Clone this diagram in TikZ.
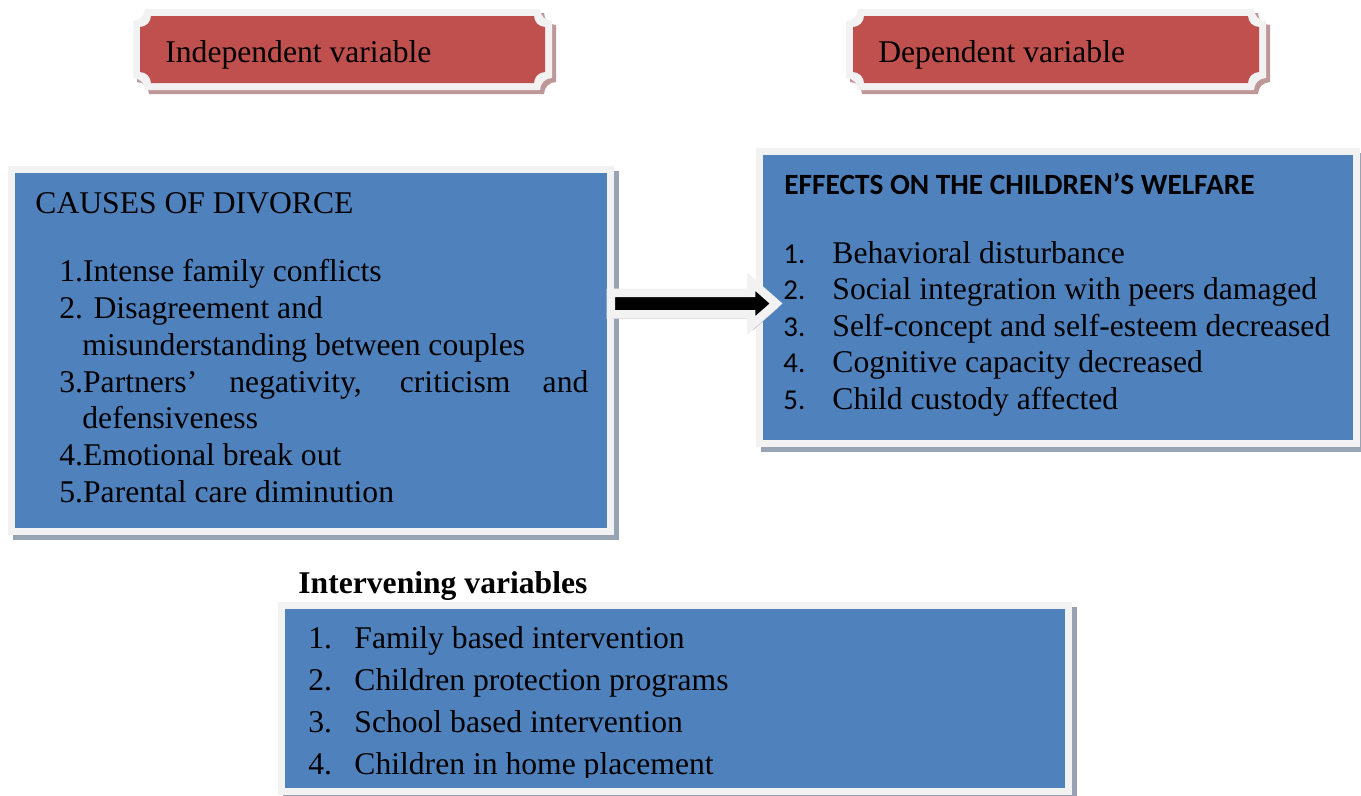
\documentclass[tikz,border=0pt]{standalone}
\usepackage{fontspec}
\setmainfont{Liberation Serif}
\newfontfamily\calibri{Carlito}
\usetikzlibrary{calc}

% plate with scooped corners: x1, y1, x2, y2, radius
\newcommand\plate[5]{(#1+#5,#2) -- (#3-#5,#2)
  .. controls (#3-#5,#2+0.552*#5) and (#3-0.552*#5,#2+#5) .. (#3,#2+#5)
  -- (#3,#4-#5)
  .. controls (#3-0.552*#5,#4-#5) and (#3-#5,#4-0.552*#5) .. (#3-#5,#4)
  -- (#1+#5,#4)
  .. controls (#1+#5,#4-0.552*#5) and (#1+0.552*#5,#4-#5) .. (#1,#4-#5)
  -- (#1,#2+#5)
  .. controls (#1+0.552*#5,#2+#5) and (#1+#5,#2+0.552*#5) .. (#1+#5,#2)
  -- cycle}

\begin{document}
\begin{tikzpicture}
    [x=0.02cm,y=-0.02cm,line join=miter,
    % Styles
    box/.style={fill=boxblue,inner sep=0pt,outer sep=0pt,
      preaction={fill=boxshadow,draw=boxshadow,line width=0.3cm,
        transform canvas={shift={(5,5)}}},
      preaction={draw=framegray,line width=0.3cm}},
    item/.style={inner sep=0pt,anchor=base west,font=\fontsize{18}{22}\selectfont},
    itemnum/.style={item,font=\calibri\fontsize{16.4}{20}\selectfont},
    heading/.style={item,font=\calibri\bfseries\fontsize{16.7}{20}\selectfont},
    big arrow/.style={fill=black,draw=framegray,line width=0.17cm,
      preaction={fill=arrowshadow,draw=arrowshadow,
        transform canvas={shift={(2,4)}}}}]
    % Colors
    \definecolor{boxblue}{RGB}{79,129,189}
    \definecolor{framegray}{RGB}{242,242,242}
    \definecolor{boxshadow}{RGB}{152,163,180}
    \definecolor{platered}{RGB}{192,80,77}
    \definecolor{plateshadow}{RGB}{190,152,152}
    \definecolor{arrowshadow}{RGB}{172,172,172}
    \useasboundingbox (0,0) rectangle (1361,795);
    % Banners
    \fill[plateshadow] \plate{137}{13}{556}{94}{12};
    \fill[framegray] \plate{133}{9}{552}{90}{12};
    \fill[platered] \plate{140}{16}{545}{83}{11};
    \node[item] (indep) at (165,62) {Independent variable};
    \fill[plateshadow] \plate{850}{13}{1270}{94}{12};
    \fill[framegray] \plate{846}{9}{1266}{90}{12};
    \fill[platered] \plate{853}{16}{1259}{83}{11};
    \node[item] (dep) at (878,62) {Dependent variable};
    % Boxes
    \node[box,minimum width=11.84cm,minimum height=7.1cm] (causes) at (311,350.5) {};
    \node[box,minimum width=11.8cm,minimum height=5.7cm] (effects) at (1058,297.5) {};
    \node[box,minimum width=15.6cm,minimum height=3.58cm] (interv) at (675,698.5) {};
    % The arrow
    \coordinate (from) at ([shift={(4,-47)}]causes.east);
    \coordinate (to) at ([shift={(13,6)}]effects.west);
    \draw[big arrow] ($(from)+(0,-10.75)$) -- ($(to)+(-25,-10.75)$) -- ($(to)+(-25,-22)$)
      -- (to) -- ($(to)+(-25,22)$) -- ($(to)+(-25,10.75)$) -- ($(from)+(0,10.75)$) -- cycle;
    % Causes
    \node[item] (causestitle) at ([shift={(20,40)}]causes.north west) {CAUSES OF DIVORCE};
    \foreach \i/\dx/\t in {0/0/{1.Intense family conflicts},1/0/{2. Disagreement and},
      2/23/{misunderstanding between couples},
      3/0/{\makebox[10.58cm][s]{3.Partners’ negativity, criticism and}},
      4/23/{defensiveness},5/0/{4.Emotional break out},6/0/{5.Parental care diminution}}
    \node[item] (cause\i) at ([shift={(44+\dx,108.7+36.8*\i)}]causes.north west) {\t};
    % Effects
    \node[heading] (effectstitle) at ([shift={(21,39)}]effects.north west)
      {EFFECTS ON THE CHILDREN’S WELFARE};
    \foreach \i/\t in {1/Behavioral disturbance,2/Social integration with peers damaged,
      3/Self-concept and self-esteem decreased,4/Cognitive capacity decreased,
      5/Child custody affected} {
      \node[itemnum] (effnum\i) at ([shift={(20,108+36.5*(\i-1))}]effects.north west) {\i.};
      \node[item] (effect\i) at ([shift={(69,108+36.5*(\i-1))}]effects.north west) {\t};
    }
    % Intervening variables
    \node[item,font=\bfseries\fontsize{18}{22}\selectfont] (intervtitle)
      at ([shift={(13,-16)}]interv.north west) {Intervening variables};
    \begin{scope}
      \clip (interv.north west) rectangle ([shift={(0,-10)}]interv.south east);
      \foreach \i/\t in {1/Family based intervention,2/Children protection programs,
        3/School based intervention,4/Children in home placement} {
        \node[item] (intnum\i) at ([shift={(23,39+42.3*(\i-1))}]interv.north west) {\i.};
        \node[item] (intitem\i) at ([shift={(69,39+42.3*(\i-1))}]interv.north west) {\t};
      }
    \end{scope}
  \end{tikzpicture}
\end{document}
